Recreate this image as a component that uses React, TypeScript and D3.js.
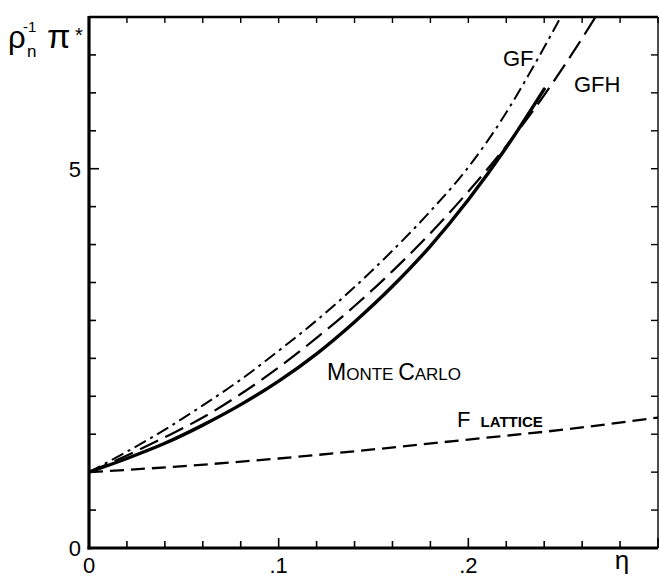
import React, { useEffect, useRef } from 'react'
import * as d3 from 'd3'

// packing fraction samples and reduced pressure per curve
const etaMC = [0, 0.02, 0.04, 0.06, 0.08, 0.1, 0.12, 0.14, 0.16, 0.18, 0.2, 0.22, 0.24]
const monteCarlo = [1, 1.18, 1.38, 1.62, 1.89, 2.2, 2.56, 2.98, 3.45, 3.98, 4.59, 5.28, 6.05]

const etaGF = [0, 0.02, 0.04, 0.06, 0.08, 0.1, 0.12, 0.14, 0.16, 0.18, 0.2, 0.22, 0.23, 0.24, 0.25]
const gf = [1, 1.27, 1.56, 1.88, 2.22, 2.6, 3.0, 3.44, 3.92, 4.44, 5.02, 5.74, 6.16, 6.6, 7.06]

const etaGFH = [0, 0.02, 0.04, 0.06, 0.08, 0.1, 0.12, 0.14, 0.16, 0.18, 0.2, 0.22, 0.24, 0.26, 0.27]
const gfh = [1, 1.22, 1.46, 1.72, 2.03, 2.38, 2.77, 3.19, 3.65, 4.15, 4.7, 5.3, 5.97, 6.72, 7.12]

const etaLattice = [0, 0.05, 0.1, 0.15, 0.2, 0.25, 0.3]
const fLattice = [1, 1.08, 1.18, 1.3, 1.43, 1.56, 1.72]

const xTickLabels = ['0', '.1', '.2']
const yTickLabels = ['0', '5']

const FONT = '"Liberation Sans", Arial, sans-serif'

export default function App() {
  const ref = useRef<SVGSVGElement | null>(null)

  useEffect(() => {
    const svg = d3.select(ref.current)
    svg.selectAll('*').remove()

    // Dimensions
    const left = 89
    const right = 658
    const top = 17
    const bottom = 548

    const x = d3.scaleLinear().domain([0, 0.3]).range([left, right])
    const y = d3.scaleLinear().domain([0, 7]).range([bottom, top])

    svg
      .append('clipPath')
      .attr('id', 'plot')
      .append('rect')
      .attr('x', left)
      .attr('y', top)
      .attr('width', right - left)
      .attr('height', bottom - top)

    // ticks
    const xMinor = d3.range(0, 0.3001, 0.02).map(v => +v.toFixed(2))
    const yMinor = d3.range(0, 7.001, 0.5)
    const isMajorX = (v: number) => Math.abs(v * 10 - Math.round(v * 10)) < 1e-6

    const g = svg.append('g').attr('stroke', '#000').attr('fill', 'none')
    xMinor.forEach(v => {
      g.append('line')
        .attr('x1', x(v)).attr('x2', x(v))
        .attr('y1', bottom).attr('y2', bottom - (isMajorX(v) ? 10 : 7))
        .attr('stroke-width', 1.6)
      g.append('line')
        .attr('x1', x(v)).attr('x2', x(v))
        .attr('y1', top).attr('y2', top + 6)
        .attr('stroke-width', 1.4)
    })
    yMinor.forEach(v => {
      const big = v === 0 || v === 5
      g.append('line')
        .attr('x1', left).attr('x2', left + (big ? 10 : 7))
        .attr('y1', y(v)).attr('y2', y(v))
        .attr('stroke-width', 1.6)
      g.append('line')
        .attr('x1', right).attr('x2', right - 7)
        .attr('y1', y(v)).attr('y2', y(v))
        .attr('stroke-width', 1.4)
    })

    // frame
    g.append('line').attr('x1', left).attr('x2', left).attr('y1', top - 1).attr('y2', bottom + 1.5).attr('stroke-width', 3.2)
    g.append('line').attr('x1', left - 1.5).attr('x2', right).attr('y1', bottom).attr('y2', bottom).attr('stroke-width', 3)
    g.append('line').attr('x1', left).attr('x2', right).attr('y1', top).attr('y2', top).attr('stroke-width', 2.4)
    g.append('line').attr('x1', right).attr('x2', right).attr('y1', top).attr('y2', bottom).attr('stroke-width', 1.4)

    // curves
    const line = d3
      .line<[number, number]>()
      .x(d => x(d[0]))
      .y(d => y(d[1]))
      .curve(d3.curveMonotoneX)

    const curves = svg.append('g').attr('clip-path', 'url(#plot)').attr('fill', 'none').attr('stroke', '#000')

    curves
      .append('path')
      .attr('d', line(etaLattice.map((e, i) => [e, fLattice[i]] as [number, number])))
      .attr('stroke-width', 2.3)
      .attr('stroke-dasharray', '14,7')

    curves
      .append('path')
      .attr('d', line(etaGF.map((e, i) => [e, gf[i]] as [number, number])))
      .attr('stroke-width', 2)
      .attr('stroke-dasharray', '13,5,3,5')

    curves
      .append('path')
      .attr('d', line(etaGFH.map((e, i) => [e, gfh[i]] as [number, number])))
      .attr('stroke-width', 2.2)
      .attr('stroke-dasharray', '20,8')

    curves
      .append('path')
      .attr('d', line(etaMC.map((e, i) => [e, monteCarlo[i]] as [number, number])))
      .attr('stroke-width', 3.4)
      .attr('stroke-linecap', 'round')

    // tick labels
    const text = svg.append('g').attr('font-family', FONT).attr('fill', '#000')
    xTickLabels.forEach(t => {
      text.append('text')
        .attr('x', x(+t))
        .attr('y', 573)
        .attr('text-anchor', 'middle')
        .attr('font-size', 22)
        .text(t)
    })
    yTickLabels.forEach(t => {
      text.append('text')
        .attr('x', 81)
        .attr('y', y(+t))
        .attr('dy', '0.36em')
        .attr('text-anchor', 'end')
        .attr('font-size', 22)
        .text(t)
    })

    // axis titles
    text.append('text').attr('x', 622).attr('y', 569).attr('text-anchor', 'middle').attr('font-size', 26).text('η')

    text.append('text').attr('x', 8).attr('y', 48).attr('font-size', 31).text('ρ')
    text.append('text').attr('x', 27).attr('y', 57).attr('font-size', 17).text('n')
    text.append('text').attr('x', 23).attr('y', 32).attr('font-size', 15).text('-1')
    text.append('text').attr('x', 47).attr('y', 48).attr('font-size', 34).text('π')
    text.append('text').attr('x', 75).attr('y', 42).attr('font-size', 20).text('*')

    // curve labels
    text.append('text').attr('x', 503).attr('y', 66).attr('font-size', 22).text('GF')
    text.append('text').attr('x', 574).attr('y', 92).attr('font-size', 22).text('GFH')

    const mc = text.append('text').attr('x', 327).attr('y', 380)
    mc.append('tspan').attr('font-size', 23).text('M')
    mc.append('tspan').attr('font-size', 17).text('ONTE ')
    mc.append('tspan').attr('font-size', 23).text('C')
    mc.append('tspan').attr('font-size', 17).text('ARLO')

    const fl = text.append('text').attr('x', 457).attr('y', 427)
    fl.append('tspan').attr('font-size', 22).text('F ')
    fl.append('tspan').attr('font-size', 15).attr('font-weight', 'bold').attr('dx', 4).text('LATTICE')
  }, [])

  return (
    <svg
      ref={ref}
      width={659}
      height={578}
      style={{ position: 'absolute', left: 0, top: 0, background: '#fff' }}
    />
  )
}
